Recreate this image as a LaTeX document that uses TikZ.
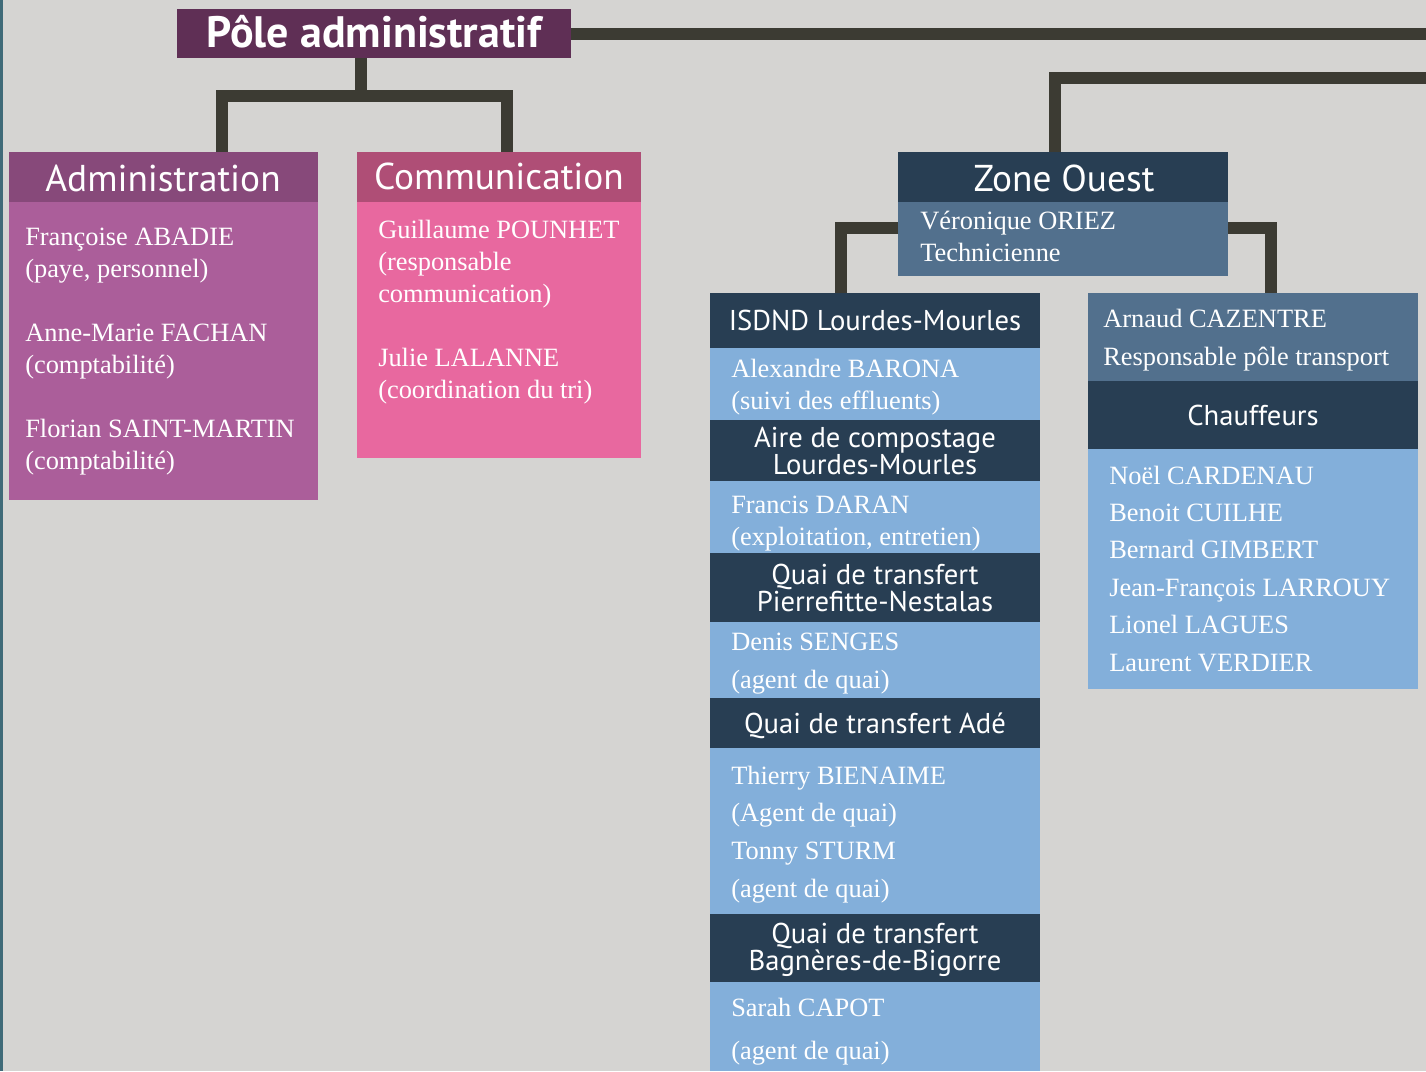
\documentclass[tikz,border=0pt]{standalone}
\usepackage{fontspec}
\setmainfont{Liberation Serif}
\newfontfamily\hsans{PT Sans}
\usetikzlibrary{fit}
\definecolor{bgc}{HTML}{D5D4D2}
\definecolor{edgec}{HTML}{3F6A78}
\definecolor{conn}{HTML}{3C3B33}
\definecolor{polec}{HTML}{5F2F55}
\definecolor{admh}{HTML}{87497A}
\definecolor{admb}{HTML}{AB5E9A}
\definecolor{comh}{HTML}{AF4E76}
\definecolor{comb}{HTML}{E8689F}
\definecolor{navy}{HTML}{283E53}
\definecolor{midb}{HTML}{52708D}
\definecolor{lightb}{HTML}{83AFDA}
\tikzset{
  panel/.style={inner sep=0pt, outer sep=0pt, draw=none, fill=#1},
  link/.style={draw=conn, line width=8.5pt, line join=miter},
  bigh/.style={text=white, inner sep=0pt, anchor=base, font=\hsans\fontsize{28}{30}\selectfont},
  smallh/.style={text=white, inner sep=0pt, anchor=base, align=center, font=\hsans\fontsize{21.5}{20.25}\selectfont},
  bodyt/.style={text=white, inner sep=0pt, anchor=base west, align=left, font=\fontsize{19.8}{#1}\selectfont},
  bodyt/.default=24
}
\begin{document}
\begin{tikzpicture}[x=0.75pt,y=-0.75pt]
\useasboundingbox (0,0) rectangle (1426,1071);
\fill[bgc] (0,0) rectangle (1426,1071);
\fill[edgec] (0,0) rectangle (3,1071);
% boxes
\node[panel=polec, fit={(177,9)(571,58)}] (pole) {};
\node[panel=admh, fit={(9,152)(318,202)}] (admh) {};
\node[panel=admb, fit={(9,202)(318,500)}] (admb) {};
\node[panel=comh, fit={(357,152)(641,202)}] (comh) {};
\node[panel=comb, fit={(357,202)(641,458)}] (comb) {};
\node[panel=navy, fit={(898,152)(1228,202)}] (zoneh) {};
\node[panel=midb, fit={(898,202)(1228,276)}] (zoneb) {};
% left column
\node[panel=navy, fit={(710,293)(1040,348)}] (isdh) {};
\node[panel=lightb, fit={(710,348)(1040,420)}] (isdb) {};
\node[panel=navy, fit={(710,420)(1040,481)}] (aireh) {};
\node[panel=lightb, fit={(710,481)(1040,553)}] (aireb) {};
\node[panel=navy, fit={(710,553)(1040,622)}] (pierh) {};
\node[panel=lightb, fit={(710,622)(1040,698)}] (pierb) {};
\node[panel=navy, fit={(710,698)(1040,748)}] (adeh) {};
\node[panel=lightb, fit={(710,748)(1040,914)}] (adeb) {};
\node[panel=navy, fit={(710,914)(1040,982)}] (bagh) {};
\node[panel=lightb, fit={(710,982)(1040,1071)}] (bagb) {};
% right column
\node[panel=midb, fit={(1088,293)(1418,381)}] (arn) {};
\node[panel=navy, fit={(1088,381)(1418,449)}] (chh) {};
\node[panel=lightb, fit={(1088,449)(1418,689)}] (chb) {};
% connectors
\coordinate (eastA) at (1426,34);
\coordinate (eastB) at (1426,78);
\coordinate (jmid) at (361,96);
\draw[link] (pole.east |- eastA) -- (eastA);
\draw[link] (eastB) -| (zoneh.north -| 1055,0);
\draw[link] (pole.south -| jmid) -- (jmid);
\draw[link] (admh.north -| 222,0) |- (jmid) -| (comh.north -| 507,0);
\draw[link] (zoneb.west |- 0,228) -| (isdh.north -| 841,0);
\draw[link] (zoneb.east |- 0,228) -| (arn.north -| 1271,0);
% headings
\node[text=white, inner sep=0pt, anchor=base, font=\hsans\bfseries\fontsize{33}{35}\selectfont] (polet) at (374,47) {Pôle administratif};
\node[bigh] (admt) at (163,191) {Administration};
\node[bigh] (comt) at (499,189) {Communication};
\node[bigh] (zonet) at (1064,191) {Zone Ouest};
\node[smallh] (isdt) at (875,330) {ISDND Lourdes-Mourles};
\node[smallh] (airet) at (875,474) {Aire de compostage\\Lourdes-Mourles};
\node[smallh] (piert) at (875,611) {Quai de transfert\\Pierrefitte-Nestalas};
\node[smallh] (adet) at (875,733) {Quai de transfert Adé};
\node[smallh] (bagt) at (875,970) {Quai de transfert\\Bagnères-de-Bigorre};
\node[smallh] (cht) at (1253,425) {Chauffeurs};
% body texts (anchored at the baseline of the last line)
\node[bodyt] (admp) at (25,469) {Françoise ABADIE\\(paye, personnel)\\[24pt]Anne-Marie FACHAN\\(comptabilité)\\[24pt]Florian SAINT-MARTIN\\(comptabilité)};
\node[bodyt] (comp) at (378,398) {Guillaume POUNHET\\(responsable\\communication)\\[24pt]Julie LALANNE\\(coordination du tri)};
\node[bodyt] (zonep) at (920,261) {Véronique ORIEZ\\Technicienne};
\node[bodyt] (isdp) at (731,409) {Alexandre BARONA\\(suivi des effluents)};
\node[bodyt] (airep) at (731,545) {Francis DARAN\\(exploitation, entretien)};
\node[bodyt=28.5] (pierp) at (731,688) {Denis SENGES\\(agent de quai)};
\node[bodyt=28.2] (adep) at (731,897) {Thierry BIENAIME\\(Agent de quai)\\Tonny STURM\\(agent de quai)};
\node[bodyt=32.25] (bagp) at (731,1059) {Sarah CAPOT\\(agent de quai)};
\node[bodyt=28.5] (arnp) at (1103,365) {Arnaud CAZENTRE\\Responsable pôle transport};
\node[bodyt=28.05] (chp) at (1109,671) {Noël CARDENAU\\Benoit CUILHE\\Bernard GIMBERT\\Jean-François LARROUY\\Lionel LAGUES\\Laurent VERDIER};
\end{tikzpicture}
\end{document}
